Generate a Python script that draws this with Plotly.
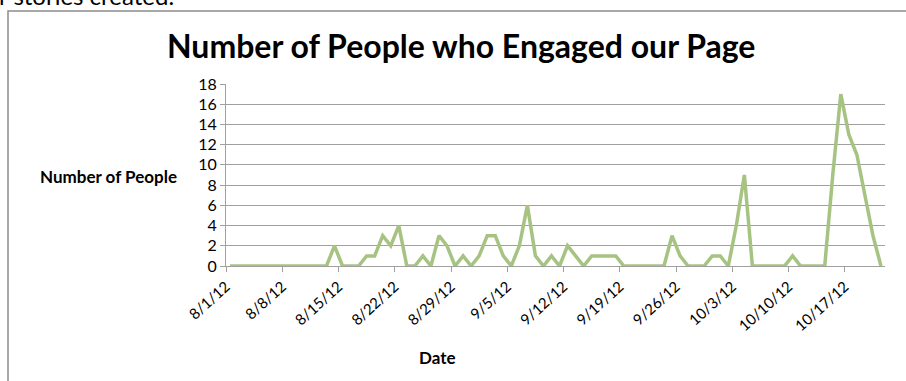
import pandas as pd
import plotly.graph_objects as go

start_date = "2012-08-01"
people = [0, 0, 0, 0, 0, 0, 0, 0, 0, 0, 0, 0, 0,   # 8/1 - 8/13
          2, 0, 0, 0, 1, 1, 3, 2, 4, 0, 0, 1, 0, 3, 2,  # 8/14 - 8/28
          0, 1, 0, 1, 3, 3, 1, 0, 2, 6, 1, 0, 1, 0,     # 8/29 - 9/11
          2, 1, 0, 1, 1, 1, 1, 0, 0, 0, 0, 0, 0, 3,     # 9/12 - 9/25
          1, 0, 0, 0, 1, 1, 0, 4, 9, 0, 0, 0, 0, 0,     # 9/26 - 10/9
          1, 0, 0, 0, 0, 9, 17, 13, 11, 7, 3, 0]        # 10/10 - 10/21
tick_labels = ["8/1/12", "8/8/12", "8/15/12", "8/22/12", "8/29/12", "9/5/12",
               "9/12/12", "9/19/12", "9/26/12", "10/3/12", "10/10/12", "10/17/12"]
y_ticks = [0, 2, 4, 6, 8, 10, 12, 14, 16, 18]

dates = pd.date_range(start_date, periods=len(people), freq="D")
half = pd.Timedelta(hours=12)
tick_dates = [pd.to_datetime(t, format="%m/%d/%y") - half for t in tick_labels]

FONT = "Lato"
GRID = "#a0a0a0"

fig = go.Figure()
fig.add_trace(go.Scatter(x=dates, y=people, mode="lines",
                         line=dict(color="#a6c382", width=3.5),
                         hoverinfo="x+y"))

# pixel geometry helpers
L, R, T, B = 226, 885, 84, 266
W, H = R - L, B - T
def px(x):
    return (x - L) / W
def py(y):
    return (B - y) / H

fig.update_layout(
    width=906, height=381,
    margin=dict(l=L, r=906 - R, t=T, b=381 - B),
    paper_bgcolor="white", plot_bgcolor="white",
    showlegend=False,
    font=dict(family=FONT, color="#000000", size=15),
    xaxis=dict(
        range=[dates[0] - half, dates[-1] + half],
        tickvals=tick_dates, ticktext=tick_labels,
        tickangle=-42, ticks="outside", ticklen=5, tickcolor=GRID,
        showline=True, linecolor=GRID, linewidth=1,
        showgrid=False, zeroline=False,
        tickfont=dict(family=FONT, size=15),
    ),
    yaxis=dict(
        range=[0, 18], tickvals=y_ticks,
        ticks="outside", ticklen=5, tickcolor=GRID,
        showline=True, linecolor=GRID, linewidth=1,
        showgrid=True, gridcolor=GRID, gridwidth=1,
        zeroline=False,
        tickfont=dict(family=FONT, size=16),
    ),
    shapes=[dict(type="rect", xref="paper", yref="paper",
                 x0=px(8), x1=px(920), y0=py(395), y1=py(11),
                 line=dict(color="#8c8c8c", width=1.5), layer="below")],
    annotations=[
        dict(text="<b>Number of People who Engaged our Page</b>",
             xref="paper", yref="paper", x=px(461), y=py(45),
             xanchor="center", yanchor="middle", showarrow=False,
             font=dict(family=FONT, size=32)),
        dict(text="<b>Number of People</b>",
             xref="paper", yref="paper", x=px(179), y=py(176),
             xanchor="right", yanchor="middle", showarrow=False,
             font=dict(family=FONT, size=17)),
        dict(text="<b>Date</b>",
             xref="paper", yref="paper", x=px(437), y=py(357),
             xanchor="center", yanchor="middle", showarrow=False,
             font=dict(family=FONT, size=17)),
        dict(text="r stories created.",
             xref="paper", yref="paper", x=px(-3), y=py(-5),
             xanchor="left", yanchor="middle", showarrow=False,
             font=dict(family=FONT, size=24)),
    ],
)

fig.write_html("out.html",
               config={"displayModeBar": False},
               post_script="document.body.style.margin='0px';"
                           "document.body.style.padding='0px';")
